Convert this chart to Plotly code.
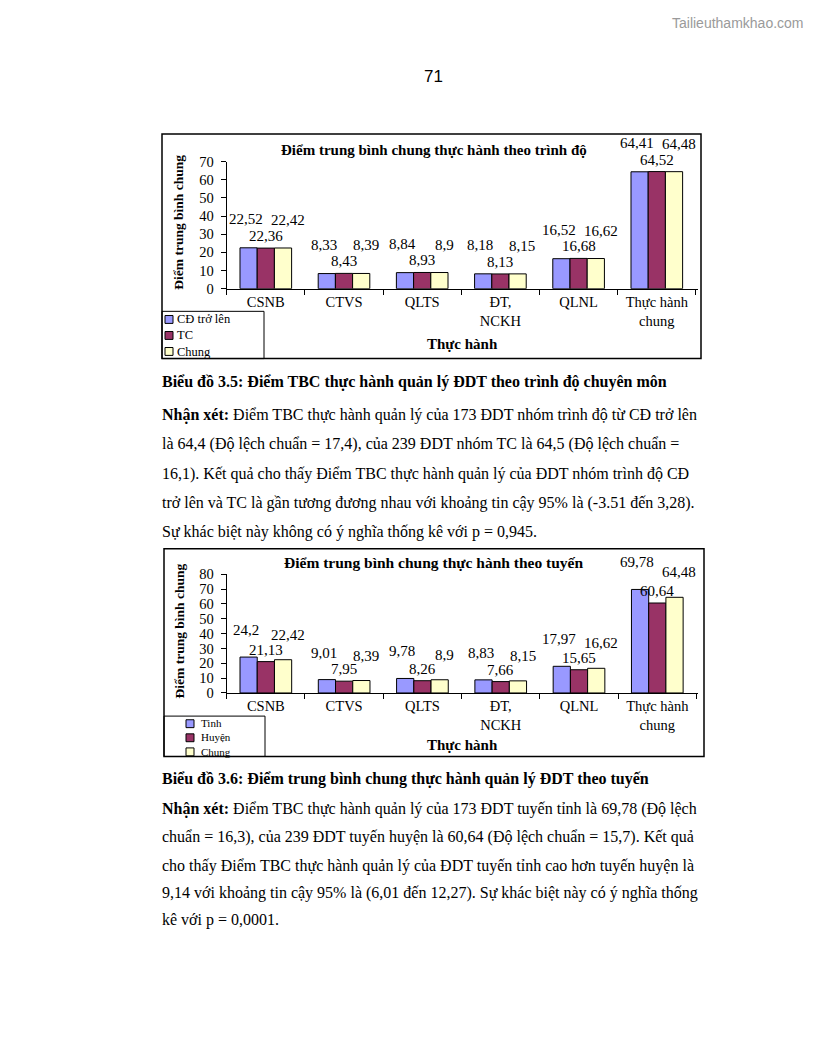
import plotly.graph_objects as go

# ---------------- data ----------------
categories = ["CSNB", "CTVS", "QLTS", "ĐT,<br>NCKH", "QLNL", "Thực hành<br>chung"]

series1_names = ["CĐ trở lên", "TC", "Chung"]
s1_cd = [22.52, 8.33, 8.84, 8.18, 16.52, 64.41]
s1_tc = [22.36, 8.43, 8.93, 8.13, 16.68, 64.52]
s1_chung = [22.42, 8.39, 8.90, 8.15, 16.62, 64.48]

series2_names = ["Tinh", "Huyện", "Chung"]
s2_tinh = [24.20, 9.01, 9.78, 8.83, 17.97, 69.78]
s2_huyen = [21.13, 7.95, 8.26, 7.66, 15.65, 60.64]
s2_chung = [22.42, 8.39, 8.90, 8.15, 16.62, 64.48]

chart1_title = "Điểm trung bình chung thực hành theo trình độ"
chart2_title = "Điểm trung bình chung thực hành theo tuyến"
y_title = "Điểm trung bình chung"
x_title = "Thực hành"

caption1 = "Biểu đồ 3.5: Điểm TBC thực hành quản lý ĐDT theo trình độ chuyên môn"
para1 = [
    "<b>Nhận xét:</b> Điểm TBC thực hành quản lý của 173 ĐDT nhóm trình độ từ CĐ trở lên",
    "là 64,4 (Độ lệch chuẩn = 17,4), của 239 ĐDT nhóm TC là 64,5 (Độ lệch chuẩn =",
    "16,1). Kết quả cho thấy Điểm TBC thực hành quản lý của ĐDT nhóm trình độ CĐ",
    "trở lên và TC là gần tương đương nhau với khoảng tin cậy 95% là (-3.51 đến 3,28).",
    "Sự khác biệt này không có ý nghĩa thống kê với p = 0,945.",
]
caption2 = "Biểu đồ 3.6: Điểm trung bình chung thực hành quản lý ĐDT theo tuyến"
para2 = [
    "<b>Nhận xét:</b> Điểm TBC thực hành quản lý của 173 ĐDT tuyến tỉnh là 69,78 (Độ lệch",
    "chuẩn = 16,3), của 239 ĐDT tuyến huyện là 60,64 (Độ lệch chuẩn = 15,7). Kết quả",
    "cho thấy Điểm TBC thực hành quản lý của ĐDT tuyến tỉnh cao hơn tuyến huyện là",
    "9,14 với khoảng tin cậy 95% là (6,01 đến 12,27). Sự khác biệt này có ý nghĩa thống",
    "kê với p = 0,0001.",
]
page_number = "71"
watermark = "Tailieuthamkhao.com"

colors = ["#9999FF", "#993366", "#FFFFCC"]

# ---------------- geometry helpers ----------------
W, H = 816, 1056
def X(px):
    return px / W
def Y(py):
    return 1 - py / H

SERIF = "Liberation Serif, Times New Roman, serif"
SANS = "Liberation Sans, Arial, sans-serif"

fig = go.Figure()

def fmt(v):
    s = ("%.2f" % v).rstrip("0").rstrip(".")
    return s.replace(".", ",")

def add_chart(series, names, xa, ya, label_dy):
    for vals, name, col in zip(series, names, colors):
        fig.add_trace(go.Bar(
            x=categories, y=vals, name=name, xaxis=xa, yaxis=ya,
            marker=dict(color=col, line=dict(color="black", width=1)),
            showlegend=False, hoverinfo="skip",
        ))
    dx = [-20, 0, 22]
    for k, vals in enumerate(series):
        for c, v in zip(categories, vals):
            fig.add_annotation(
                x=c, y=v, xref=xa, yref=ya, text=fmt(v), showarrow=False,
                xshift=dx[k], yshift=label_dy[k], yanchor="middle",
                font=dict(family=SERIF, size=15, color="black"),
            )

add_chart([s1_cd, s1_tc, s1_chung], series1_names, "x", "y", [29, 12, 28])
add_chart([s2_tinh, s2_huyen, s2_chung], series2_names, "x2", "y2", [27, 12, 25])

axis_common = dict(
    showline=True, linecolor="black", linewidth=1, ticks="outside", ticklen=5,
    tickcolor="black", showgrid=False, zeroline=False,
    tickfont=dict(family=SERIF, size=14.5, color="black"),
)

fig.update_layout(
    width=W, height=H, margin=dict(l=0, r=0, t=0, b=0),
    paper_bgcolor="white", plot_bgcolor="white",
    barmode="group", bargap=0.34, bargroupgap=0,
    showlegend=False,
    xaxis=dict(domain=[X(226.7), X(697.8)], anchor="y", type="category",
               tickson="boundaries", **axis_common),
    yaxis=dict(domain=[Y(285), Y(156)], anchor="x", range=[0, 70], dtick=10,
               ticklabelstandoff=4, **axis_common),
    xaxis2=dict(domain=[X(226.7), X(698.3)], anchor="y2", type="category",
                tickson="boundaries", **axis_common),
    yaxis2=dict(domain=[Y(695.5), Y(575)], anchor="x2", range=[0, 80], dtick=10,
                ticklabelstandoff=4, **axis_common),
)

shapes = []
# chart borders
shapes.append(dict(type="rect", xref="paper", yref="paper", x0=X(162), x1=X(701),
                   y0=Y(356), y1=Y(128), line=dict(color="black", width=1.5)))
shapes.append(dict(type="rect", xref="paper", yref="paper", x0=X(164), x1=X(704),
                   y0=Y(760), y1=Y(549), line=dict(color="black", width=1.5)))
# legend boxes
shapes.append(dict(type="rect", xref="paper", yref="paper", x0=X(162), x1=X(264),
                   y0=Y(356), y1=Y(308), line=dict(color="black", width=1)))
shapes.append(dict(type="rect", xref="paper", yref="paper", x0=X(164), x1=X(265),
                   y0=Y(760), y1=Y(719), line=dict(color="black", width=1)))

def legend(names, sx, tx, yc, size):
    step = size * 1.3
    for k, col in enumerate(colors):
        c = yc + (k - 1) * step
        shapes.append(dict(type="rect", xref="paper", yref="paper",
                           x0=X(sx), x1=X(sx + 8), y0=Y(c + 4), y1=Y(c - 4),
                           fillcolor=col, line=dict(color="black", width=1)))
    fig.add_annotation(x=X(tx), y=Y(yc), xref="paper", yref="paper",
                       text="<br>".join(names), align="left",
                       showarrow=False, xanchor="left", yanchor="middle",
                       font=dict(family=SERIF, size=size, color="black"))

legend(series1_names, 165, 175, 332.5, 12.5)
legend(series2_names, 186, 199, 741, 11)
fig.update_layout(shapes=shapes)

def text(x, y, s, size, family=SERIF, anchor="center", bold=False, angle=0, color="black"):
    fig.add_annotation(x=X(x), y=Y(y), xref="paper", yref="paper",
                       text=("<b>%s</b>" % s) if bold else s, showarrow=False,
                       xanchor=anchor, yanchor="middle", textangle=angle,
                       font=dict(family=family, size=size, color=color))

# chart titles / axis titles
text(434, 144, chart1_title, 15, bold=True)
text(434, 563, chart2_title, 15.5, bold=True)
text(462, 341, x_title, 15, bold=True)
text(462, 748, x_title, 15, bold=True)
text(179, 218, y_title, 13.5, bold=True, angle=-90)
text(179, 633, y_title, 13.5, bold=True, angle=-90)

# page elements
text(433, 70, page_number, 17, family=SANS)
text(806, 15, watermark, 14, family=SANS, anchor="right", color="#9a9a9a")

text(160, 380, caption1, 16, anchor="left", bold=True)
for s, y in zip(para1, [413, 443, 473, 503, 532]):
    text(160, y, s, 16, anchor="left")
text(160, 783, caption2, 16, anchor="left", bold=True)
for s, y in zip(para2, [813, 842, 871, 899, 926]):
    text(160, y, s, 16, anchor="left")

post = "document.body.style.margin='0px';"
fig.write_html("out.html", config={"displayModeBar": False}, post_script=post)
